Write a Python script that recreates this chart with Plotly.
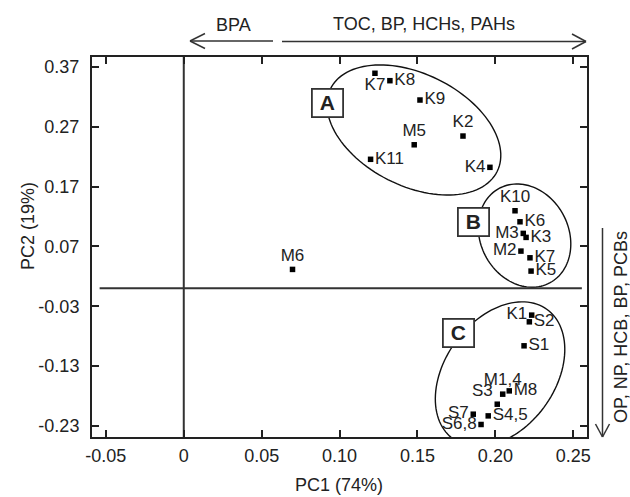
import numpy as np
import plotly.graph_objects as go

# ---------------- data ----------------
labels = ["K7", "K8", "K9", "M5", "K2", "K11", "K4",
          "M6",
          "K10", "K6", "M3", "K3", "M2", "K7", "K5",
          "K1", "S2", "S1", "M1,4", "M8", "S3", "S7", "S4,5", "S6,8"]
pc1 = [0.1227, 0.1323, 0.1516, 0.1479, 0.1792, 0.1199, 0.1965,
       0.0698,
       0.2126, 0.2158, 0.2179, 0.2197, 0.2164, 0.2222, 0.2229,
       0.2233, 0.2218, 0.2184, 0.2047, 0.2089, 0.2012, 0.1858, 0.1954, 0.1908]
pc2 = [0.3595, 0.3471, 0.3148, 0.2400, 0.2546, 0.2157, 0.2023,
       0.0317,
       0.1297, 0.1113, 0.0919, 0.0852, 0.0623, 0.0511, 0.0289,
       -0.0447, -0.0559, -0.0960, -0.1768, -0.1713, -0.1936, -0.2103, -0.2131, -0.2275]
text_pos = ["bottom center", "middle right", "middle right", "top center", "top center",
            "middle right", "middle left",
            "top center",
            "top center", "middle right", "middle left", "middle right", "middle left",
            "middle right", "middle right",
            "middle left", "middle right", "middle right", "top center", "middle right",
            "top left", "middle left", "middle right", "middle left"]

x_ticks = [-0.05, 0, 0.05, 0.10, 0.15, 0.20, 0.25]
x_ticktext = ["-0.05", "0", "0.05", "0.10", "0.15", "0.20", "0.25"]
y_ticks = [0.37, 0.27, 0.17, 0.07, -0.03, -0.13, -0.23]
y_ticktext = ["0.37", "0.27", "0.17", "0.07", "-0.03", "-0.13", "-0.23"]

# groups: (label, box center x, box center y)
groups = [("A", 0.0925, 0.3106), ("B", 0.186, 0.1116), ("C", 0.1762, -0.074)]
# ellipses: center (data), semi-axes (px), screen angle (deg)
ellipses = [(0.1477, 0.2647, 93, 56, 26.5),
            (0.2187, 0.0882, 53.6, 44, 62.0),
            (0.2030, -0.1434, 80, 55, -54.0)]

# ---------------- layout geometry ----------------
W, H = 630, 497
ML, MR, MT, MB = 92, 43, 57, 60
xr = [-0.0589, 0.2588]
yr = [-0.2484, 0.3867]
pw, ph = W - ML - MR, H - MT - MB
xs = pw / (xr[1] - xr[0])
ys = ph / (yr[1] - yr[0])

FONT = "Liberation Sans, Arial, sans-serif"
INK = "#222"

fig = go.Figure()
fig.add_trace(go.Scatter(
    x=pc1, y=pc2, mode="markers+text", text=labels, textposition=text_pos,
    marker=dict(symbol="square", size=5.5, color="black"),
    textfont=dict(family=FONT, size=17, color=INK),
    cliponaxis=False, hoverinfo="skip", showlegend=False))

shapes = []
# ellipses
for cx, cy, a, b, ang in ellipses:
    t = np.linspace(0, 2 * np.pi, 120)
    th = np.deg2rad(ang)
    dx = a * np.cos(t) * np.cos(th) - b * np.sin(t) * np.sin(th)
    dy = a * np.cos(t) * np.sin(th) + b * np.sin(t) * np.cos(th)
    ex = cx + dx / xs
    ey = cy - dy / ys
    path = "M " + " L ".join(f"{px:.5f},{py:.5f}" for px, py in zip(ex, ey)) + " Z"
    shapes.append(dict(type="path", path=path, xref="x", yref="y",
                       line=dict(color="#111", width=1.4), layer="below"))
# zero lines
shapes.append(dict(type="line", xref="x", yref="paper", x0=0, x1=0, y0=0, y1=1,
                   line=dict(color="#333", width=2), layer="below"))
shapes.append(dict(type="line", xref="x", yref="y", x0=-0.054, x1=0.2555, y0=0, y1=0,
                   line=dict(color="#333", width=2), layer="below"))

# arrows outside plot (paper coords from pixels)
def px2paper(px, py):
    return (px - ML) / pw, (H - MB - py) / ph

def seg(p0, p1, w=1.5):
    a0 = px2paper(*p0)
    a1 = px2paper(*p1)
    shapes.append(dict(type="line", xref="paper", yref="paper",
                       x0=a0[0], y0=a0[1], x1=a1[0], y1=a1[1],
                       line=dict(color="#333", width=w)))

# left arrow (BPA)
seg((190, 41), (273, 41))
seg((205, 33.5), (190, 41)); seg((205, 48.5), (190, 41))
# right arrow (TOC...)
seg((282, 41.5), (586, 41.5))
seg((572, 34), (586, 41.5)); seg((572, 49), (586, 41.5))
# vertical arrow
seg((602.5, 228), (602.5, 437))
seg((595.5, 424), (602.5, 437)); seg((609.5, 424), (602.5, 437))

annotations = []
def ann_px(text, px, py, angle=0, size=18):
    x, y = px2paper(px, py)
    annotations.append(dict(text=text, x=x, y=y, xref="paper", yref="paper",
                            xanchor="center", yanchor="middle", showarrow=False,
                            textangle=angle, font=dict(family=FONT, size=size, color=INK)))

ann_px("BPA", 233, 25)
ann_px("TOC, BP, HCHs, PAHs", 424, 24)
ann_px("OP, NP, HCB, BP, PCBs", 621, 327, angle=-90)
ann_px("PC1 (74%)", 339, 485)
ann_px("PC2 (19%)", 28, 226, angle=-90)

for g, gx, gy in groups:
    annotations.append(dict(text=f"<b>{g}</b>", x=gx, y=gy, xref="x", yref="y",
                            showarrow=False, font=dict(family=FONT, size=21, color=INK),
                            bgcolor="white", bordercolor="#333", borderwidth=1.8,
                            borderpad=1, width=27, height=24))

axis_common = dict(showgrid=False, zeroline=False, showline=True, linecolor="#222",
                   linewidth=2, mirror="ticks", ticks="inside", ticklen=7,
                   tickwidth=2, tickcolor="#222",
                   tickfont=dict(family=FONT, size=18, color=INK))

fig.update_layout(
    width=W, height=H,
    margin=dict(l=ML, r=MR, t=MT, b=MB),
    plot_bgcolor="white", paper_bgcolor="white",
    xaxis=dict(range=xr, tickmode="array", tickvals=x_ticks, ticktext=x_ticktext,
               ticklabelstandoff=1, **axis_common),
    yaxis=dict(range=yr, tickmode="array", tickvals=y_ticks, ticktext=y_ticktext,
               ticklabelstandoff=7, **axis_common),
    shapes=shapes, annotations=annotations, showlegend=False,
)

fig.write_html("out.html", config={"displayModeBar": False},
               post_script="document.body.style.margin='0';document.body.style.overflow='hidden';")
